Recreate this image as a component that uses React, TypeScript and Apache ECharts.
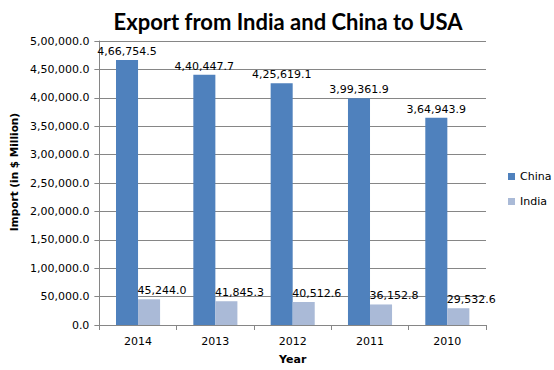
import React, { useEffect, useRef } from "react";
import * as echarts from "echarts";

const categories = ["2014", "2013", "2012", "2011", "2010"];
const chinaValues = [466754.5, 440447.7, 425619.1, 399361.9, 364943.9];
const indiaValues = [45244.0, 41845.3, 40512.6, 36152.8, 29532.6];
const seriesNames = ["China", "India"];

function indianFormat(v: number): string {
  const fixed = v.toFixed(1);
  const [intPart, dec] = fixed.split(".");
  let s = intPart;
  let out = "";
  if (s.length > 3) {
    out = "," + s.slice(-3);
    s = s.slice(0, -3);
    while (s.length > 2) {
      out = "," + s.slice(-2) + out;
      s = s.slice(0, -2);
    }
    out = s + out;
  } else {
    out = s;
  }
  return out + "." + dec;
}

const FONT = "DejaVu Sans";

export default function App() {
  const ref = useRef<HTMLDivElement>(null);
  useEffect(() => {
    if (!ref.current) return;
    const chart = echarts.init(ref.current, null, { renderer: "svg" });
    chart.setOption({
      animation: false,
      backgroundColor: "#ffffff",
      title: {
        text: "Export from India and China to USA",
        left: 283,
        top: 5,
        textAlign: "center",
        textStyle: { fontFamily: "Lato", fontWeight: "bold", fontSize: 22, color: "#000000" },
      },
      legend: {
        orient: "vertical",
        left: 503,
        top: 166,
        width: 50,
        itemWidth: 7,
        itemHeight: 7,
        itemGap: 14,
        icon: "rect",
        textStyle: { fontFamily: FONT, fontSize: 11, color: "#000000" },
        data: seriesNames,
      },
      grid: { left: 93, right: 68, top: 41, bottom: 43, containLabel: false },
      xAxis: {
        type: "category",
        data: categories,
        name: "Year",
        nameLocation: "middle",
        nameGap: 29,
        nameTextStyle: { fontFamily: FONT, fontWeight: "bold", fontSize: 11, color: "#000000" },
        axisLine: { lineStyle: { color: "#868686" } },
        axisTick: { show: true, length: 5, lineStyle: { color: "#868686" } },
        axisLabel: { fontFamily: FONT, fontSize: 11, color: "#000000", margin: 11 },
      },
      yAxis: {
        type: "value",
        min: 0,
        max: 500000,
        interval: 50000,
        name: "Import (in $ Million)",
        nameLocation: "middle",
        nameGap: 72,
        nameTextStyle: { fontFamily: FONT, fontWeight: "bold", fontSize: 10.5, color: "#000000", padding: [0, 0, 0, 22] },
        axisLine: { show: true, lineStyle: { color: "#868686" } },
        axisTick: { show: true, length: 5, lineStyle: { color: "#868686" } },
        axisLabel: { fontFamily: FONT, fontSize: 11, color: "#000000", margin: 10, formatter: (v: number) => indianFormat(v) },
        splitLine: { lineStyle: { color: "#868686" } },
      },
      series: [
        {
          name: seriesNames[0],
          type: "bar",
          data: chinaValues,
          barGap: "0%",
          barCategoryGap: "43%",
          itemStyle: { color: "#4F81BD" },
          label: {
            show: true,
            position: "top",
            distance: 3,
            fontFamily: FONT,
            fontSize: 11,
            color: "#000000",
            formatter: (p: any) => indianFormat(p.value),
          },
        },
        {
          name: seriesNames[1],
          type: "bar",
          data: indiaValues,
          barGap: "0%",
          barCategoryGap: "43%",
          itemStyle: { color: "#AABAD7" },
          label: {
            show: true,
            position: "top",
            distance: 3,
            offset: [13, 0],
            fontFamily: FONT,
            fontSize: 11,
            color: "#000000",
            formatter: (p: any) => indianFormat(p.value),
          },
        },
      ],
    });
    return () => chart.dispose();
  }, []);
  return <div ref={ref} style={{ position: "absolute", left: 0, top: 0, width: 554, height: 370 }} />;
}
